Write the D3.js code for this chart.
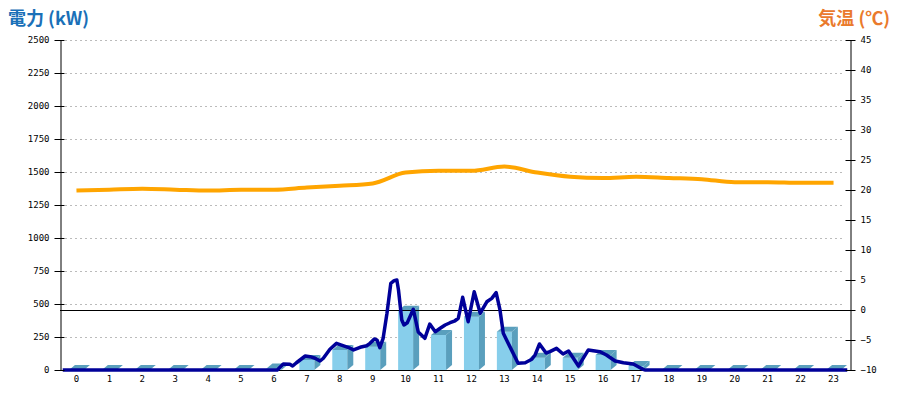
<!DOCTYPE html>
<html>
<head>
<meta charset="utf-8">
<script src="https://cdn.jsdelivr.net/npm/d3@7"></script>
<style>
  html, body { margin: 0; padding: 0; background: #fff; }
  svg { display: block; }
</style>
</head>
<body>
<svg id="chart" width="900" height="400"></svg>
<script>
// ---- data ----
const hours = ["0","1","2","3","4","5","6","7","8","9","10","11","12","13","14","15","16","17","18","19","20","21","22","23"];
const barValues = [0,0,0,0,0,0,12,76,152,177,449,265,404,290,93,93,114,30,0,0,0,0,0,0];
const tempValues = [19.9,20.05,20.2,20.05,19.9,20.05,20.05,20.4,20.7,21.1,22.9,23.2,23.2,23.9,22.9,22.2,22.0,22.2,22.0,21.8,21.3,21.3,21.2,21.2];
// power trace (minutes since midnight, kW)
const powerMinutes = [5,396,407,419,424,431,447,456,465,474,480,492,504,513,525,535,547,559,565,573,578,583,589,596,603,609,614,617,623,627,633,644,653,665,674,684,693,702,711,720,726,734,744,755,766,778,787,795,802,808,820,835,848,860,866,874,886,893,905,917,927,945,963,984,996,1012,1027,1045,1054,1063,1066,1435];
const powerValues = [0,0,45,43,30,55,106,101,89,68,89,157,202,189,172,152,172,184,202,235,227,169,240,430,657,677,682,606,379,341,358,460,288,240,348,290,316,341,358,373,392,551,366,593,430,517,543,586,455,278,177,51,55,81,114,197,129,139,164,121,144,30,152,139,114,68,55,45,25,5,0,0];
const leftTicks = [0,250,500,750,1000,1250,1500,1750,2000,2250,2500];
const rightTicks = [-10,-5,0,5,10,15,20,25,30,35,40,45];
const leftTitle = "電力 (kW)";
const rightTitle = "気温 (℃)";

// ---- layout ----
const svg = d3.select("#chart");
const X0 = 60, X1 = 850, Y0 = 370, Y1 = 40;

const x = d3.scaleBand().domain(hours).range([X0, X1]).padding(0);
const xt = d3.scaleLinear().domain([0, 1440]).range([X0, X1]);
const yL = d3.scaleLinear().domain([0, 2500]).range([Y0, Y1]);
const yR = d3.scaleLinear().domain([-10, 45]).range([Y0, Y1]);

const font = "'DejaVu Sans Mono', monospace";

// gridlines
svg.append("g").selectAll("line").data(leftTicks.filter(d => d > 0)).join("line")
  .attr("x1", X0 + 5).attr("x2", X1 - 5)
  .attr("y1", d => Math.round(yL(d)) + 0.5).attr("y2", d => Math.round(yL(d)) + 0.5)
  .attr("stroke", "#bbbbbb").attr("stroke-width", 1).attr("stroke-dasharray", "2,3");

// 3D bars
const bw = 15, dx = 6, dy = 5;
const front = "#87ceeb", dark = "#5a9fbd";
const bars = svg.append("g");
hours.forEach((h, i) => {
  const cx = x(h) + x.bandwidth() / 2;
  const bx = cx - bw / 2;
  const top = yL(barValues[i]);
  const base = yL(0);
  if (base - top > 0) {
    bars.append("rect").attr("x", bx).attr("y", top).attr("width", bw).attr("height", base - top).attr("fill", front);
    bars.append("polygon").attr("points", [[bx + bw, top], [bx + bw + dx, top - dy], [bx + bw + dx, base - dy], [bx + bw, base]].join(" ")).attr("fill", dark);
  }
  bars.append("polygon").attr("points", [[bx, top], [bx + dx, top - dy], [bx + bw + dx, top - dy], [bx + bw, top]].join(" ")).attr("fill", dark);
});

// baseline and temperature zero line
svg.append("line").attr("x1", X0).attr("x2", X1).attr("y1", Y0 + 0.5).attr("y2", Y0 + 0.5).attr("stroke", "#000");
svg.append("line").attr("x1", X0).attr("x2", X1).attr("y1", Math.round(yR(0)) + 0.5).attr("y2", Math.round(yR(0)) + 0.5).attr("stroke", "#000");

// power line
const powerPts = powerMinutes.map((m, i) => [m, powerValues[i]]);
svg.append("path").datum(powerPts)
  .attr("d", d3.line().x(d => xt(d[0])).y(d => yL(d[1])))
  .attr("fill", "none").attr("stroke", "#000099").attr("stroke-width", 3.5).attr("stroke-linejoin", "round");

// temperature line
svg.append("path").datum(tempValues)
  .attr("d", d3.line().x((d, i) => x(hours[i]) + x.bandwidth() / 2).y(d => yR(d)).curve(d3.curveMonotoneX))
  .attr("fill", "none").attr("stroke", "#ffa500").attr("stroke-width", 4);

// left axis
const gL = svg.append("g").attr("transform", `translate(${X0 + 0.5},0)`)
  .call(d3.axisLeft(yL).tickValues(leftTicks).tickFormat(d3.format("d")).tickSizeInner(6).tickSizeOuter(0).tickPadding(5));
gL.select(".domain").attr("stroke", "#000");
gL.selectAll(".tick line").attr("x2", 4).attr("x1", -6).attr("stroke", "#000");
gL.selectAll(".tick text").attr("font-family", font).attr("font-size", 9).attr("fill", "#000").attr("x", -11);

// right axis
const gR = svg.append("g").attr("transform", `translate(${X1 + 0.5},0)`)
  .call(d3.axisRight(yR).tickValues(rightTicks).tickFormat(d3.format("d")).tickSizeInner(6).tickSizeOuter(0).tickPadding(5));
gR.select(".domain").attr("stroke", "#000");
gR.selectAll(".tick line").attr("x1", -5).attr("x2", 5).attr("stroke", "#000");
gR.selectAll(".tick text").attr("font-family", font).attr("font-size", 9).attr("fill", "#000").attr("x", 10);

// x axis labels
const gX = svg.append("g").attr("transform", `translate(0,${Y0})`)
  .call(d3.axisBottom(x).tickSize(0).tickPadding(6));
gX.select(".domain").remove();
gX.selectAll(".tick text").attr("font-family", font).attr("font-size", 9).attr("fill", "#000");

// titles
svg.append("text").attr("x", 8).attr("y", 25).text(leftTitle)
  .attr("font-family", "'Noto Sans CJK JP', sans-serif").attr("font-weight", "bold").attr("font-size", 18).attr("fill", "#1a70b8");
svg.append("text").attr("x", 890).attr("y", 25).attr("text-anchor", "end").text(rightTitle)
  .attr("font-family", "'Noto Sans CJK JP', sans-serif").attr("font-weight", "bold").attr("font-size", 18).attr("fill", "#ea7a2c");
</script>
</body>
</html>
